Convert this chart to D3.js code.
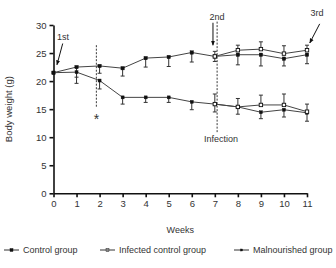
<!doctype html>
<html>
<head>
<meta charset="utf-8">
<script src="https://cdn.jsdelivr.net/npm/d3@7"></script>
<style>
  body { margin: 0; background: #fff; }
  svg text { font-family: "Liberation Sans", Arial, sans-serif; fill: #333; }
  .axis path, .axis line { stroke: #111; stroke-width: 1.6px; }
  .series { fill: none; stroke: #444; stroke-width: 1px; }
  .err { stroke: #333; stroke-width: 1px; }
</style>
</head>
<body>
<div id="chart"></div>
<script>
// weeks
var weeks = [0, 1, 2, 3, 4, 5, 6, 7, 8, 9, 10, 11];
var infWeeks = [7, 8, 9, 10, 11];

// body weight (g)
var control = [21.5, 22.5, 22.7, 22.3, 24.1, 24.3, 25.1, 24.4, 24.7, 24.7, 24.0, 24.7];
var controlErr = [0, 1.8, 1.3, 1.4, 1.6, 1.7, 1.7, 0.9, 1.8, 2.0, 1.3, 1.6];
var infectedControl = [24.4, 25.5, 25.7, 24.9, 25.5];
var infectedControlErr = [0.9, 0.9, 1.3, 1.4, 0.9];
var malnourished = [21.5, 21.6, 20.1, 17.1, 17.1, 17.1, 16.3, 15.9, 15.4, 14.45, 14.9, 14.35];
var malnourishedErr = [0, 2.0, 1.5, 1.2, 0.9, 0.9, 1.4, 1.4, 1.3, 1.15, 1.3, 1.5];
var infectedMal = [15.9, 15.4, 15.75, 15.75, 14.55];
var infectedMalErr = [1.8, 1.5, 1.75, 1.95, 1.35];

var yTicks = [0, 5, 10, 15, 20, 25, 30];
var legendLabels = ["Control group", "Infected control group", "Malnourished group"];

var width = 336, height = 268;
var x = d3.scaleLinear().domain([0, 11]).range([53.5, 307]);
var y = d3.scaleLinear().domain([0, 30]).range([193.3, 25]);

var svg = d3.select("#chart").append("svg")
  .attr("width", width).attr("height", height);

svg.append("defs").append("marker")
  .attr("id", "arrow").attr("viewBox", "0 0 10 10")
  .attr("refX", 9).attr("refY", 5)
  .attr("markerWidth", 5).attr("markerHeight", 5)
  .attr("orient", "auto")
  .append("path").attr("d", "M0,1L10,5L0,9Z").attr("fill", "#111");

// axes
svg.append("g").attr("class", "axis")
  .attr("transform", "translate(0," + y(0) + ")")
  .call(d3.axisBottom(x).tickValues(weeks).tickSize(4).tickSizeOuter(0).tickPadding(3));
svg.append("g").attr("class", "axis")
  .attr("transform", "translate(" + x(0) + ",0)")
  .call(d3.axisLeft(y).tickValues(yTicks).tickSize(4).tickSizeOuter(0).tickPadding(3));
svg.selectAll(".axis text").style("font-size", "9.5px").attr("fill", "#333");

svg.append("text").attr("x", x(5.5)).attr("y", 233)
  .attr("text-anchor", "middle").style("font-size", "9px").text("Weeks");
svg.append("text")
  .attr("transform", "translate(12," + y(15) + ") rotate(-90)")
  .attr("text-anchor", "middle").style("font-size", "9.5px").text("Body weight (g)");

// dashed markers and notes
function vdash(wk, y0, y1) {
  svg.append("line").attr("x1", x(wk)).attr("x2", x(wk))
    .attr("y1", y(y0)).attr("y2", y(y1))
    .attr("stroke", "#222").attr("stroke-width", 0.9).attr("stroke-dasharray", "2,1.5");
}
vdash(1.86, 26.4, 15.2);
vdash(7.1, 30.6, 10.8);
svg.append("text").attr("x", x(1.87)).attr("y", y(12.3)).attr("text-anchor", "middle")
  .style("font-size", "14px").text("*");
svg.append("text").attr("x", x(7.27)).attr("y", y(9.2)).attr("text-anchor", "middle")
  .style("font-size", "9px").text("Infection");

var notes = [
  { label: "1st", tx: 0.41, ty: 27.4, x0: 0.4, y0: 26.7, x1: 0.15, y1: 22.9 },
  { label: "2nd", tx: 7.09, ty: 30.9, x0: 6.92, y0: 30.4, x1: 6.92, y1: 26.4 },
  { label: "3rd", tx: 11.43, ty: 31.6, x0: 11.55, y0: 30.2, x1: 11.12, y1: 26.8 }
];
notes.forEach(function(n) {
  svg.append("text").attr("x", x(n.tx)).attr("y", y(n.ty)).attr("text-anchor", "middle")
    .style("font-size", "9px").text(n.label);
  svg.append("line").attr("x1", x(n.x0)).attr("y1", y(n.y0))
    .attr("x2", x(n.x1)).attr("y2", y(n.y1))
    .attr("stroke", "#111").attr("stroke-width", 1)
    .attr("marker-end", "url(#arrow)");
});

// series
var series = [
  { w: weeks, v: control, e: controlErr, dir: -1, open: false, r: 3.4 },
  { w: weeks, v: malnourished, e: malnourishedErr, dir: -1, open: false, r: 3.0 },
  { w: infWeeks, v: infectedControl, e: infectedControlErr, dir: 1, open: true, r: 3.4 },
  { w: infWeeks, v: infectedMal, e: infectedMalErr, dir: 1, open: true, r: 3.4 }
];

var line = d3.line().x(function(d) { return x(d[0]); }).y(function(d) { return y(d[1]); });

series.forEach(function(s) {
  var pts = s.w.map(function(w, i) { return [w, s.v[i], s.e[i]]; });
  svg.append("path").attr("class", "series").attr("d", line(pts));
  var eb = svg.append("g");
  pts.forEach(function(p) {
    if (!p[2]) return;
    var yEnd = y(p[1] + s.dir * p[2]);
    eb.append("line").attr("class", "err")
      .attr("x1", x(p[0])).attr("x2", x(p[0])).attr("y1", y(p[1])).attr("y2", yEnd);
    eb.append("line").attr("class", "err")
      .attr("x1", x(p[0]) - 2).attr("x2", x(p[0]) + 2).attr("y1", yEnd).attr("y2", yEnd);
  });
  svg.append("g").selectAll("rect").data(pts).enter().append("rect")
    .attr("x", function(d) { return x(d[0]) - s.r / 2; })
    .attr("y", function(d) { return y(d[1]) - s.r / 2; })
    .attr("width", s.r).attr("height", s.r)
    .attr("fill", s.open ? "#fff" : "#111")
    .attr("stroke", "#111").attr("stroke-width", s.open ? 0.9 : 0.4);
});

// legend
var legX = [4, 100, 234];
var leg = svg.append("g").selectAll("g").data(legendLabels).enter().append("g")
  .attr("transform", function(d, i) { return "translate(" + legX[i] + ",250)"; });
leg.append("line").attr("x1", 0).attr("x2", 15).attr("y1", 0).attr("y2", 0)
  .attr("stroke", "#333").attr("stroke-width", 1);
leg.append("rect")
  .attr("x", function(d, i) { return i === 2 ? 6.5 : 6; })
  .attr("y", function(d, i) { return i === 2 ? -1 : -1.5; })
  .attr("width", function(d, i) { return i === 2 ? 2 : 3; })
  .attr("height", function(d, i) { return i === 2 ? 2 : 3; })
  .attr("fill", function(d, i) { return i === 1 ? "#888" : "#111"; })
  .attr("stroke", "#111").attr("stroke-width", 0.4);
leg.append("text").attr("x", 19).attr("y", 3)
  .style("font-size", "9px").text(function(d) { return d; });
</script>
</body>
</html>
